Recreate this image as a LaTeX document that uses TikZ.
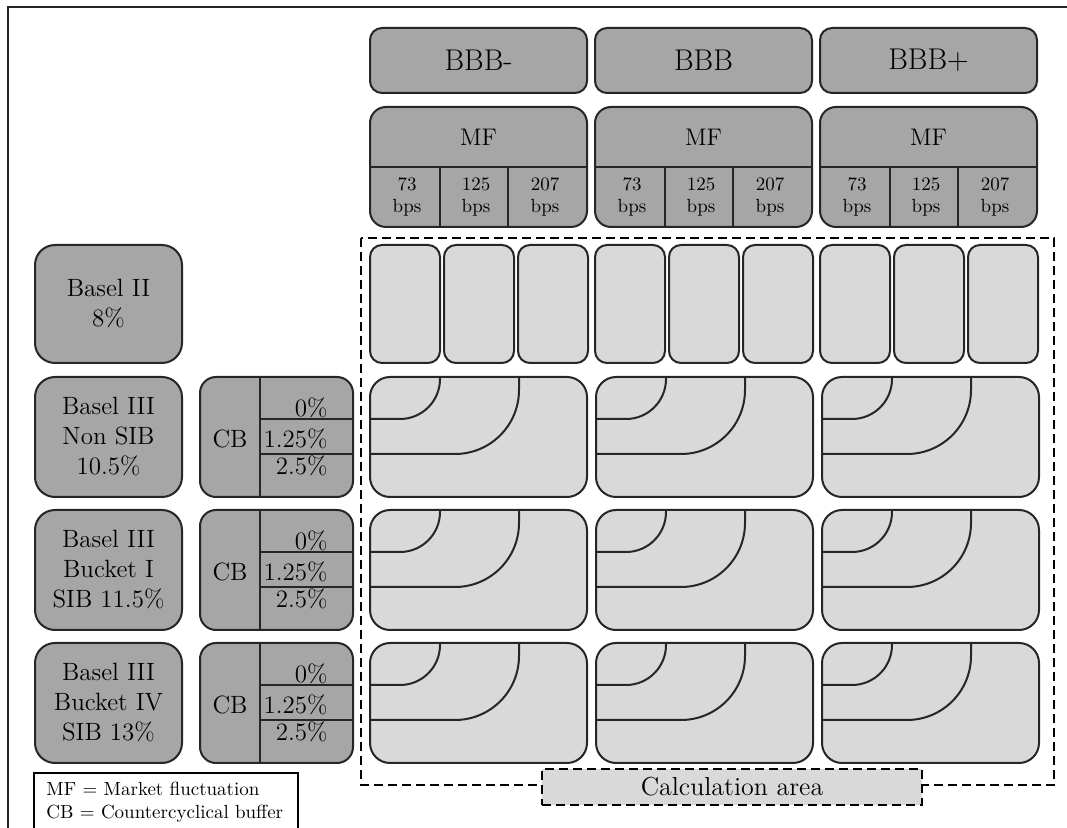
\documentclass[tikz,border=0pt]{standalone}
\usetikzlibrary{positioning,calc}
\definecolor{dk}{HTML}{A6A6A6}
\definecolor{lg}{HTML}{D9D9D9}
\definecolor{ln}{HTML}{262626}
\tikzset{
  box/.style={draw=ln,line width=1pt,rounded corners=8pt,inner sep=0pt,outer sep=0pt,align=center},
  dbox/.style={box,fill=dk},
  lbox/.style={box,fill=lg},
  rating/.style={dbox,rounded corners=6pt,minimum width=108.5pt,minimum height=32.5pt,font=\fontsize{15}{18}\selectfont},
  mfbox/.style={dbox,minimum width=108.5pt,minimum height=60pt},
  cell/.style={lbox,rounded corners=6pt,minimum width=35pt,minimum height=59pt},
  calcbox/.style={lbox,rounded corners=10pt,minimum width=108.5pt,minimum height=60pt},
  basel/.style={dbox,rounded corners=10pt,minimum width=73.5pt,minimum height=60pt,font=\fontsize{12.5}{15}\selectfont},
  cbbox/.style={dbox,minimum width=76.5pt,minimum height=60pt},
  pct/.style={inner sep=0pt,font=\fontsize{12.5}{15}\selectfont},
  bps/.style={align=center,inner sep=0pt,font=\fontsize{9.5}{11}\selectfont},
  part/.style={draw=ln,line width=1pt},
  area/.style={draw=black,line width=1.2pt,dash pattern=on 4.5pt off 2.5pt},
}
\begin{document}
\begin{tikzpicture}[x=0.5pt,y=-0.5pt]
\useasboundingbox (0,0) rectangle (1067,828);
% frame
\draw[part] (8,828) -- (8,7) -- (1067,7);

% ratings, market fluctuation, Basel II cells
\foreach \L/\lab [count=\i] in {370/BBB-,595/BBB,820/BBB+} {
  \node[rating] (rt\i) at (\L+108.5,60.5) {\lab};
  \node[mfbox] (mf\i) at (\L+108.5,167) {};
  \node[font=\fontsize{12}{14}\selectfont] (mft\i) at (\L+108.5,137) {MF};
  \draw[part] (mf\i.west) -- (mf\i.east);
  \draw[part] (\L+70,167) -- (\L+70,227) (\L+138,167) -- (\L+138,227);
  \foreach \k/\val in {0/73,1/125,2/207}
    \node[bps] (bp\i\k) at (\L+37+69*\k,197) {\val\\bps};
  \foreach \k in {0,1,2}
    \node[cell] (bt\i\k) at (\L+35+74*\k,304) {};
}

% Basel rows
\node[basel,minimum height=59pt] (bs0) at (108.5,304) {Basel II\\8\%};
\foreach \T/\txt [count=\r] in {377/Basel III\\Non SIB\\10.5\%,510/Basel III\\Bucket I\\SIB 11.5\%,643/Basel III\\Bucket IV\\SIB 13\%} {
  \node[basel] (bs\r) at (108.5,\T+60) {\txt};
  \node[cbbox] (cb\r) at (276.5,\T+60) {};
  \draw[part] (260,\T) -- (260,\T+120) (260,\T+42) -- (353,\T+42) (260,\T+77) -- (353,\T+77);
  \node[pct] (cbt\r) at (230,\T+62) {CB};
  \node[pct,anchor=east] (pa\r) at (328,\T+31) {0\%};
  \node[pct,anchor=east] (pb\r) at (328,\T+62) {1.25\%};
  \node[pct,anchor=east] (pc\r) at (328,\T+89) {2.5\%};
  \foreach \L [count=\i] in {370,596,822} {
    \node[calcbox] (cl\r\i) at (\L+108.5,\T+60) {};
    \draw[part,rounded corners=20pt] ([yshift=-21pt]cl\r\i.north west) -- ++(70,0) -- ++(0,-42);
    \draw[part,rounded corners=32pt] ([yshift=-38.5pt]cl\r\i.north west) -- ++(149,0) -- ++(0,-77);
  }
}

% calculation area
\draw[area] (361,238) rectangle (1054,785);
\node[area,fill=lg,minimum width=190pt,minimum height=18pt,font=\fontsize{13}{15}\selectfont] (calc) at (732,787) {Calculation area};

% legend
\draw[draw=black,line width=0.8pt] (34,840) |- (298,773) -- (298,840);
\node[anchor=north west,inner sep=0pt,align=left,font=\fontsize{9.5}{11.5}\selectfont] (legend) at (46,782) {MF = Market fluctuation\\CB = Countercyclical buffer};
\end{tikzpicture}
\end{document}
